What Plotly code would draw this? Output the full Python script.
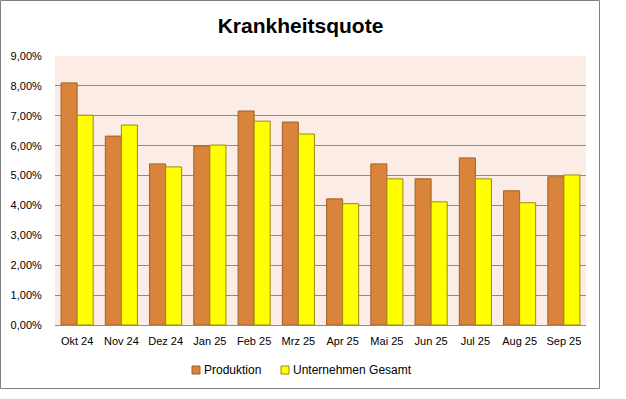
import plotly.graph_objects as go

months = ["Okt 24", "Nov 24", "Dez 24", "Jan 25", "Feb 25", "Mrz 25",
          "Apr 25", "Mai 25", "Jun 25", "Jul 25", "Aug 25", "Sep 25"]
produktion = [8.10, 6.32, 5.39, 5.99, 7.16, 6.79, 4.22, 5.39, 4.89, 5.59, 4.49, 4.96]
unternehmen_gesamt = [7.02, 6.69, 5.29, 6.02, 6.82, 6.39, 4.06, 4.89, 4.12, 4.89, 4.09, 5.02]
y_ticks = [0, 1, 2, 3, 4, 5, 6, 7, 8, 9]
y_tick_labels = ["0,00%", "1,00%", "2,00%", "3,00%", "4,00%", "5,00%",
                 "6,00%", "7,00%", "8,00%", "9,00%"]
series_names = ["Produktion", "Unternehmen Gesamt"]

W, H = 626, 399
ML, MR, MT, MB = 55, 40, 56, 74
PW, PH = W - ML - MR, H - MT - MB

def px_x(p):
    return (p - ML) / PW

def px_y(p):
    return (H - MB - p) / PH

FONT = "Liberation Sans, Arial, sans-serif"
FILLS = ["#DA843B", "#FFFF00"]
EDGES = ["#A0602A", "#9C8A10"]

fig = go.Figure()
for name, vals, fc, ec in zip(series_names, [produktion, unternehmen_gesamt], FILLS, EDGES):
    fig.add_trace(go.Bar(
        x=months, y=vals, name=name,
        marker=dict(color=fc, line=dict(color=ec, width=1)),
    ))

# legend drawn manually (Excel-style compact legend)
legend_sym_x = [192, 281]
shapes = [dict(type="rect", xref="paper", yref="paper",
               x0=px_x(0.5), x1=px_x(599.5), y0=px_y(0.5), y1=px_y(388.5),
               line=dict(color="#808080", width=1), fillcolor="rgba(0,0,0,0)",
               layer="below")]
annotations = []
for sx, name, fc, ec in zip(legend_sym_x, series_names, FILLS, EDGES):
    shapes.append(dict(type="rect", xref="paper", yref="paper",
                       x0=px_x(sx), x1=px_x(sx + 8), y0=px_y(366), y1=px_y(374),
                       line=dict(color=ec, width=1), fillcolor=fc))
    annotations.append(dict(text=name, xref="paper", yref="paper",
                            x=px_x(sx + 10), y=px_y(370), xanchor="left",
                            yanchor="middle", showarrow=False,
                            font=dict(family=FONT, size=12, color="#000000")))

fig.update_layout(
    width=W, height=H,
    margin=dict(l=ML, r=MR, t=MT, b=MB, pad=0),
    paper_bgcolor="white",
    plot_bgcolor="#FCECE6",
    separators=",.",
    barmode="group",
    bargap=0.275,
    bargroupgap=0,
    font=dict(family=FONT, size=11, color="#000000"),
    title=dict(text="<b>Krankheitsquote</b>", x=300.5 / W, xanchor="center",
               xref="container", y=1 - 26 / H, yref="container", yanchor="middle",
               font=dict(family=FONT, size=21, color="#000000")),
    showlegend=False,
    xaxis=dict(type="category", showgrid=False, showline=True, linecolor="#8C8C8C",
               linewidth=1, ticks="outside", ticklen=6, tickcolor="rgba(0,0,0,0)",
               tickfont=dict(size=11)),
    yaxis=dict(range=[0, 9], tickvals=y_ticks, ticktext=y_tick_labels,
               showgrid=True, gridcolor="#8C8C8C", gridwidth=1, zeroline=False,
               showline=False, ticks="outside", ticklen=10, tickcolor="rgba(0,0,0,0)",
               tickfont=dict(size=11)),
    shapes=shapes,
    annotations=annotations,
)

fig.write_html("out.html", config={"displayModeBar": False},
               post_script="document.body.style.margin='0';")
